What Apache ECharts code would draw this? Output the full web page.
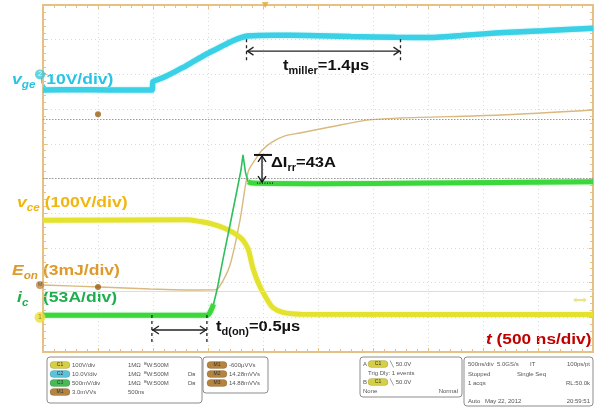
<!DOCTYPE html>
<html>
<head>
<meta charset="utf-8">
<script src="https://cdn.jsdelivr.net/npm/echarts@6/dist/echarts.min.js"></script>
<style>
  html, body { margin: 0; padding: 0; background: #ffffff; }
  #main { width: 603px; height: 408px; }
</style>
</head>
<body>
<div id="main"></div>
<script>
// ---- Turn-on waveforms, time in ns (500 ns/div, 10 div) ----
const timeRange = [0, 5000];
const divisions = [0, 10];

// gate-emitter voltage, V (10 V/div)
const vgeData = [
  [0, -4.5], [300, -4.4], [600, -4.5], [991, -4.5], [1000, -2.1], [1070, -1.2],
  [1127, -0.4], [1200, 0.8], [1273, 2.0], [1350, 3.4], [1427, 4.8], [1500, 6.1],
  [1582, 7.4], [1650, 8.5], [1727, 9.7], [1800, 10.6], [1855, 11.1], [2100, 11.3],
  [2400, 11.2], [2800, 10.9], [3200, 10.7], [3500, 10.6], [3800, 11.2], [4150, 12.0],
  [4550, 12.6], [5000, 13.3]
];

// collector-emitter voltage, V (100 V/div)
const vceData = [
  [0, 280], [1300, 281], [1430, 276], [1550, 268], [1640, 258], [1730, 244],
  [1800, 228], [1840, 212], [1870, 192], [1910, 140], [1970, 90], [2040, 50],
  [2090, 28], [2180, 14], [2340, 9], [5000, 8]
];

// collector current, A (53 A/div)
const icBefore = [[0, 3], [700, 3], [1491, 3], [1520, 8], [1550, 20]];
const icEdge = [[1550, 20], [1582, 42], [1640, 92], [1700, 141], [1760, 191], [1800, 225], [1818, 248], [1840, 222], [1864, 207]];
const icAfter = [[1864, 207], [1900, 205], [2500, 204], [3500, 205], [5000, 207]];

// turn-on energy, mJ (3 mJ/div)
const eonData = [
  [0, 0.54], [518, 0.37], [973, 0.2], [1427, 0.11], [1564, 0.12], [1609, 0.46],
  [1700, 2.27], [1791, 6.16], [1864, 10.3], [1927, 11.35], [1991, 12.2], [2082, 12.9],
  [2200, 13.43], [2336, 13.68], [2609, 14.2], [2945, 14.8], [3245, 14.98], [4155, 15.24],
  [5000, 15.67]
];

// measured intervals (ns) and reverse-recovery overshoot (A)
const tdOn = [990, 1490];          // 0.5 us
const tMiller = [1850, 3250];      // 1.4 us
const irrSteady = 205;
const irrPeak = 248;               // peak - steady = 43 A
const irrTime = 1991;
const triggerTime = 2020;
const triggerLevel = 50;           // V on C1
const cursorTime = 500;

const FRAME = '#e6c185';
const FONT = '"Liberation Sans", Arial, sans-serif';

const chart = echarts.init(document.getElementById('main'), null, { renderer: 'canvas' });

// ---------- text helpers (main text + subscripts) ----------
const mctx = document.createElement('canvas').getContext('2d');
function textWidth(t, font) { mctx.font = font; return mctx.measureText(t).width; }

function label(x, yc, parts, stretch) {
  let cx = 0;
  const children = [];
  parts.forEach(p => {
    const size = p.sub ? 10 : 15;
    const font = (p.italic ? 'italic ' : '') + 'bold ' + size + 'px ' + FONT;
    children.push({
      type: 'text', x: cx, y: yc + (p.sub ? 5 : 0),
      style: { text: p.text, font: font, fill: p.color, align: 'left', verticalAlign: 'middle' }
    });
    cx += textWidth(p.text, font);
  });
  return { type: 'group', x: x, y: 0, scaleX: stretch || 1.17, children: children, z: 100 };
}

// ---------- scope info panels ----------
function smallText(x, y, t, align) {
  return { type: 'text', x: x, y: y, style: { text: t, font: '6px ' + FONT, fill: '#555', align: align || 'left', verticalAlign: 'middle' } };
}
function badge(x, y, color, t) {
  return [
    { type: 'rect', shape: { x: x, y: y - 3.5, width: 20, height: 7, r: 3.5 }, style: { fill: color, stroke: 'rgba(0,0,0,0.25)', lineWidth: 0.5 } },
    { type: 'text', x: x + 10, y: y, style: { text: t, font: '5px ' + FONT, fill: '#333', align: 'center', verticalAlign: 'middle' } }
  ];
}
function box(x, y, w, h) {
  return { type: 'rect', shape: { x: x, y: y, width: w, height: h, r: 3 }, style: { fill: '#fff', stroke: '#8c8c8c', lineWidth: 1 } };
}

const panel = [
  box(47, 357, 155, 46),
  ...badge(50, 365, '#d6cf45', 'C1'), smallText(72, 365, '100V/div'), smallText(128, 365, '1MΩ  ᴮW:500M'),
  ...badge(50, 374, '#58c3d9', 'C2'), smallText(72, 374, '10.0V/div'), smallText(128, 374, '1MΩ  ᴮW:500M'), smallText(188, 374, 'Dʙ'),
  ...badge(50, 383, '#47b955', 'C3'), smallText(72, 383, '500mV/div'), smallText(128, 383, '1MΩ  ᴮW:500M'), smallText(188, 383, 'Dʙ'),
  ...badge(50, 392, '#b4833f', 'M1'), smallText(72, 392, '3.0mVVs'), smallText(128, 392, '500ns'),
  box(203, 357, 65, 36),
  ...badge(207, 365, '#b4833f', 'M1'), smallText(229, 365, '-600µVVs'),
  ...badge(207, 374, '#b4833f', 'M2'), smallText(229, 374, '14.28mVVs'),
  ...badge(207, 383, '#b4833f', 'M3'), smallText(229, 383, '14.88mVVs'),
  box(360, 357, 102, 40),
  smallText(363, 364, 'A'), ...badge(368, 364, '#d6cf45', 'C1'), smallText(390, 364, '╲ 50.0V'),
  smallText(368, 373, 'Trig Dly: 1 events'),
  smallText(363, 382, 'B'), ...badge(368, 382, '#d6cf45', 'C1'), smallText(390, 382, '╲ 50.0V'),
  smallText(363, 391, 'None'), smallText(458, 391, 'Normal', 'right'),
  box(464, 357, 129, 49),
  smallText(468, 364, '500ns/div'), smallText(497, 364, '5.0GS/s'), smallText(530, 364, 'IT'), smallText(590, 364, '100ps/pt', 'right'),
  smallText(468, 374, 'Stopped'), smallText(517, 374, 'Single Seq'),
  smallText(468, 383, '1 acqs'), smallText(590, 383, 'RL:50.0k', 'right'),
  smallText(468, 401, 'Auto'), smallText(485, 401, 'May 22, 2012'), smallText(590, 401, '20:59:51', 'right')
];

const VGE_C = '#29c3e5', VCE_C = '#f2b50c', EON_C = '#de9a2c', IC_C = '#1fae4f';
const labels = [
  label(12, 80, [{ text: 'v', italic: true, color: VGE_C }, { text: 'ge', italic: true, sub: true, color: VGE_C }, { text: ' (10V/div)', color: VGE_C }], 1.17),
  label(17, 203, [{ text: 'v', italic: true, color: VCE_C }, { text: 'ce', italic: true, sub: true, color: VCE_C }, { text: ' (100V/div)', color: VCE_C }], 1.17),
  label(12, 271, [{ text: 'E', italic: true, color: EON_C }, { text: 'on', italic: true, sub: true, color: EON_C }, { text: ' (3mJ/div)', color: EON_C }], 1.17),
  label(17, 298, [{ text: 'i', italic: true, color: IC_C }, { text: 'c', italic: true, sub: true, color: IC_C }, { text: '   (53A/div)', color: IC_C }], 1.17),
  label(283, 66, [{ text: 't', color: '#111' }, { text: 'miller', sub: true, color: '#111' }, { text: '=1.4µs', color: '#111' }], 1.1),
  label(271, 163, [{ text: 'ΔI', color: '#111' }, { text: 'rr', sub: true, color: '#111' }, { text: '=43A', color: '#111' }], 1.1),
  label(216, 327, [{ text: 't', color: '#111' }, { text: 'd(on)', sub: true, color: '#111' }, { text: '=0.5µs', color: '#111' }], 1.1),
  label(486, 340, [{ text: 't', italic: true, color: '#c00000' }, { text: ' (500 ns/div)', color: '#c00000' }], 1.15)
];

// ---------- arrow annotation renderers ----------
function hArrow(dashUp, dashDown) {
  return function (params, api) {
    const p1 = api.coord([api.value(0), api.value(2)]);
    const p2 = api.coord([api.value(1), api.value(2)]);
    const ls = { stroke: '#222', lineWidth: 1.3, fill: null };
    const ds = { stroke: '#222', lineWidth: 1.3, lineDash: [3, 3], fill: null };
    return {
      type: 'group', children: [
        { type: 'line', shape: { x1: p1[0], y1: p1[1], x2: p2[0], y2: p2[1] }, style: ls },
        { type: 'polyline', shape: { points: [[p1[0] + 7, p1[1] - 4], [p1[0] + 1, p1[1]], [p1[0] + 7, p1[1] + 4]] }, style: ls },
        { type: 'polyline', shape: { points: [[p2[0] - 7, p2[1] - 4], [p2[0] - 1, p2[1]], [p2[0] - 7, p2[1] + 4]] }, style: ls },
        { type: 'line', shape: { x1: p1[0], y1: p1[1] - dashUp, x2: p1[0], y2: p1[1] + dashDown }, style: ds },
        { type: 'line', shape: { x1: p2[0], y1: p2[1] - dashUp, x2: p2[0], y2: p2[1] + dashDown }, style: ds }
      ]
    };
  };
}
function vArrow(params, api) {
  const top = api.coord([api.value(0), api.value(2)]);
  const bot = api.coord([api.value(0), api.value(1)]);
  const ls = { stroke: '#111', lineWidth: 1.3, fill: null };
  return {
    type: 'group', children: [
      { type: 'line', shape: { x1: top[0] - 8, y1: top[1], x2: top[0] + 10, y2: top[1] }, style: { stroke: '#111', lineWidth: 2 } },
      { type: 'line', shape: { x1: bot[0] - 5, y1: bot[1], x2: bot[0] + 11, y2: bot[1] }, style: { stroke: '#111', lineWidth: 1.2, lineDash: [1, 1.5] } },
      { type: 'line', shape: { x1: top[0], y1: top[1] + 1, x2: bot[0], y2: bot[1] - 1 }, style: ls },
      { type: 'polyline', shape: { points: [[top[0] - 4, top[1] + 7], [top[0], top[1] + 1], [top[0] + 4, top[1] + 7]] }, style: ls },
      { type: 'polyline', shape: { points: [[bot[0] - 4, bot[1] - 7], [bot[0], bot[1] - 1], [bot[0] + 4, bot[1] - 7]] }, style: ls }
    ]
  };
}

const dotted = { color: '#d9d9d9', type: [1, 3], width: 1 };
function frameX(pos, split) {
  return {
    type: 'value', position: pos, min: timeRange[0], max: timeRange[1], interval: 500,
    axisLine: { show: true, onZero: false, lineStyle: { color: FRAME, width: 2 } },
    axisTick: { show: true, inside: true, length: 4, lineStyle: { color: FRAME } },
    minorTick: { show: true, splitNumber: 5, length: 3, lineStyle: { color: FRAME } },
    axisLabel: { show: false },
    splitLine: { show: split, lineStyle: dotted }
  };
}
function frameY(pos, split) {
  return {
    type: 'value', position: pos, min: divisions[0], max: divisions[1], interval: 1,
    axisLine: { show: true, onZero: false, lineStyle: { color: FRAME, width: 2 } },
    axisTick: { show: true, inside: true, length: 4, lineStyle: { color: FRAME } },
    minorTick: { show: true, splitNumber: 5, length: 3, lineStyle: { color: FRAME } },
    axisLabel: { show: false },
    splitLine: { show: split, lineStyle: dotted }
  };
}
// channel scales: min/max put each channel's ground on its reference division
function chanY(voltsPerDiv, groundDiv) {
  return { type: 'value', show: false, min: -groundDiv * voltsPerDiv, max: (10 - groundDiv) * voltsPerDiv, splitLine: { show: false } };
}

const option = {
  animation: false,
  backgroundColor: '#ffffff',
  grid: { left: 43, right: 10, top: 5, bottom: 56 },
  xAxis: [frameX('bottom', true), frameX('top', false)],
  yAxis: [
    frameY('left', true), frameY('right', false),
    chanY(10, 8),      // 2: vge
    chanY(100, 1),     // 3: vce
    chanY(53, 1),      // 4: ic
    chanY(3, 1.75)     // 5: Eon
  ],
  graphic: [...panel, ...labels],
  series: [
    {
      type: 'line', yAxisIndex: 0, data: [], silent: true,
      markLine: {
        silent: true, symbol: 'none', label: { show: false },
        lineStyle: { color: '#9b9b9b', type: [1.5, 1.5], width: 1.2 },
        data: [{ yAxis: 5 }, { yAxis: 6.71 }]
      }
    },
    {
      name: 'Eon', type: 'line', yAxisIndex: 5, data: eonData, symbol: 'none', smooth: 0.3,
      lineStyle: { color: '#d9b97e', width: 1.4 }, z: 3,
      markLine: {
        silent: true, symbol: 'none', label: { show: false },
        lineStyle: { color: '#eedcb8', type: 'solid', width: 1 },
        data: [{ yAxis: 0 }]
      }
    },
    {
      name: 'vce', type: 'line', yAxisIndex: 3, data: vceData, symbol: 'none', smooth: 0.35,
      lineStyle: { color: '#e3e22e', width: 5, shadowColor: 'rgba(227,226,46,0.5)', shadowBlur: 2 }, z: 4
    },
    {
      name: 'vge', type: 'line', yAxisIndex: 2, data: vgeData, symbol: 'none', smooth: 0.2,
      lineStyle: { color: '#3ad0e6', width: 5.5, shadowColor: 'rgba(58,208,230,0.5)', shadowBlur: 2 }, z: 4
    },
    {
      name: 'ic', type: 'line', yAxisIndex: 4, data: icBefore, symbol: 'none', smooth: 0.3,
      lineStyle: { color: '#3ad83a', width: 5, shadowColor: 'rgba(58,216,58,0.5)', shadowBlur: 2 }, z: 5
    },
    {
      name: 'ic', type: 'line', yAxisIndex: 4, data: icEdge, symbol: 'none',
      lineStyle: { color: '#2fbf5e', width: 1.6 }, z: 5
    },
    {
      name: 'ic', type: 'line', yAxisIndex: 4, data: icAfter, symbol: 'none', smooth: 0.3,
      lineStyle: { color: '#3ad83a', width: 5, shadowColor: 'rgba(58,216,58,0.5)', shadowBlur: 2 }, z: 5
    },
    // channel ground markers on the left edge
    {
      type: 'scatter', yAxisIndex: 2, data: [[0, 0]], symbol: 'circle', symbolSize: 10, symbolOffset: [-3, 0], clip: false, z: 8,
      itemStyle: { color: '#3fc9d8' }, label: { show: true, formatter: '2', fontSize: 7, color: '#fff', position: 'inside' }
    },
    {
      type: 'scatter', yAxisIndex: 3, data: [[0, 0]], symbol: 'circle', symbolSize: 11, symbolOffset: [-3, 0], clip: false, z: 8,
      itemStyle: { color: '#ecdf3a' }, label: { show: true, formatter: '1', fontSize: 7, color: '#7a6a00', position: 'inside' }
    },
    {
      type: 'scatter', yAxisIndex: 5, data: [eonData[0]], symbol: 'circle', symbolSize: 8, symbolOffset: [-3, 0], clip: false, z: 8,
      itemStyle: { color: '#b98a4a' }, label: { show: true, formatter: 'M', fontSize: 5, color: '#553300', position: 'inside' }
    },
    // cursor dots
    {
      type: 'scatter', yAxisIndex: 5, data: [[cursorTime, 0.37]], symbol: 'circle', symbolSize: 6, z: 8,
      itemStyle: { color: '#9a5f10' }
    },
    {
      type: 'scatter', yAxisIndex: 0, data: [[cursorTime, 6.85]], symbol: 'circle', symbolSize: 6, z: 8,
      itemStyle: { color: '#9a5f10' }
    },
    // trigger position and trigger level markers
    {
      type: 'scatter', yAxisIndex: 0, data: [[triggerTime, 10]], symbol: 'triangle', symbolRotate: 180, symbolSize: [7, 6], clip: false, z: 8,
      itemStyle: { color: '#e3a53a' }
    },
    {
      type: 'scatter', yAxisIndex: 3, data: [[4882, triggerLevel]], symbol: 'path://M0,5 L4,0 L4,3 L12,3 L12,0 L16,5 L12,10 L12,7 L4,7 L4,10 Z',
      symbolSize: [14, 5], z: 8, itemStyle: { color: '#e6dc6a' }
    },
    // measurement arrows
    {
      type: 'custom', yAxisIndex: 0, data: [[tMiller[0], tMiller[1], 8.67]], encode: { x: [0, 1], y: 2 },
      renderItem: hArrow(12, 9), clip: false, z: 20, silent: true
    },
    {
      type: 'custom', yAxisIndex: 0, data: [[tdOn[0], tdOn[1], 0.634]], encode: { x: [0, 1], y: 2 },
      renderItem: hArrow(15, 15), clip: false, z: 20, silent: true
    },
    {
      type: 'custom', yAxisIndex: 4, data: [[irrTime, irrSteady, irrPeak]], encode: { x: 0, y: [1, 2] },
      renderItem: vArrow, clip: false, z: 20, silent: true
    }
  ]
};

chart.setOption(option);
</script>
</body>
</html>
